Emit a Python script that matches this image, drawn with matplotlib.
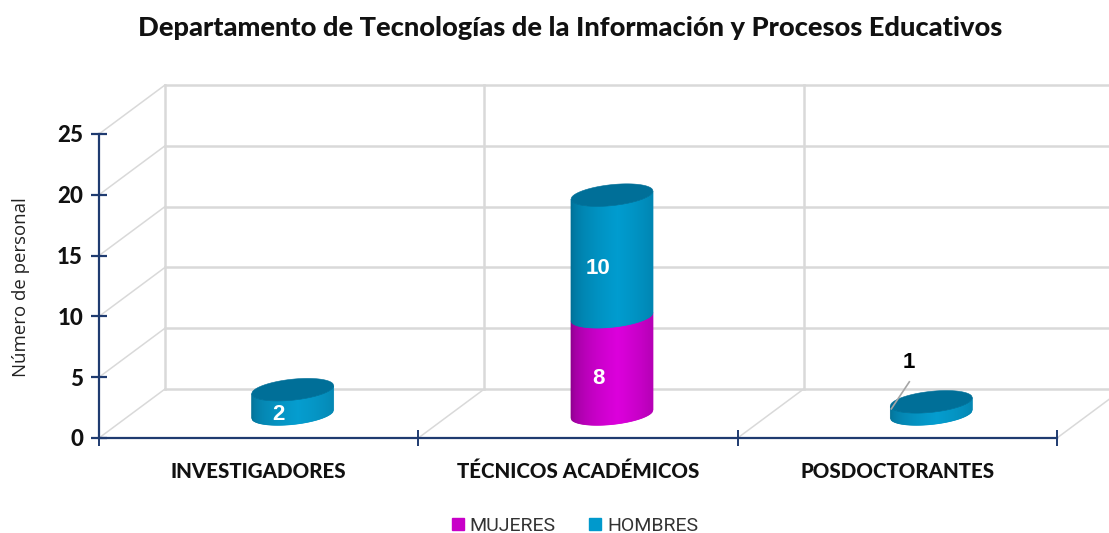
import numpy as np
import matplotlib
matplotlib.use("Agg")
import matplotlib.pyplot as plt
from matplotlib.patches import Polygon, Patch
from matplotlib.transforms import Affine2D, IdentityTransform
from matplotlib.colors import to_rgb

categories = ["INVESTIGADORES", "TÉCNICOS ACADÉMICOS", "POSDOCTORANTES"]
mujeres = [0, 8, 0]
hombres = [2, 10, 1]
yticks = [0, 5, 10, 15, 20, 25]
title = "Departamento de Tecnologías de la Información y Procesos Educativos"
ylabel = "Número de personal"

W, H = 1109, 533
NAVY = "#1F3B70"
GRID = "#D9D9D9"
MAG = ("#7E007E", "#DC00DC")
BLU = ("#00668A", "#009CCF")
BLU_TOP = "#006F98"

fig = plt.figure(figsize=(W / 100, H / 100), dpi=100, facecolor="white")
L, R, T, B = 99, 1057, 134, 438
ax = fig.add_axes([L / W, 1 - B / H, (R - L) / W, (B - T) / H])
ax.set_xlim(-0.5, 2.5)
ax.set_ylim(0, 25)
ax.patch.set_visible(False)
for s in ("top", "right"):
    ax.spines[s].set_visible(False)
for s in ("left", "bottom"):
    ax.spines[s].set_color(NAVY)
    ax.spines[s].set_linewidth(1.6)
    ax.spines[s].set_zorder(6)

LABEL = dict(family="Lato", fontweight="black", color="#111111")
ax.set_yticks(yticks)
ax.set_yticklabels([str(v) for v in yticks], fontsize=16, **LABEL)
ax.tick_params(axis="y", which="major", direction="inout", length=11, width=1.6,
               color=NAVY, pad=6)
ax.set_xticks([-0.5, 0.5, 1.5, 2.5])
ax.set_xticklabels([])
ax.tick_params(axis="x", which="major", direction="inout", length=12, width=1.4, color=NAVY)
ax.set_xticks([0, 1, 2], minor=True)
ax.set_xticklabels(categories, minor=True, fontsize=14.8, **LABEL)
ax.tick_params(axis="x", which="minor", length=0, pad=17)

# back wall and floor
DX, DY = 66, 49
back = ax.transData + Affine2D().translate(DX, DY)
for v in yticks:
    ax.plot([-0.5, 3.0], [v, v], transform=back, color=GRID, lw=1.8, clip_on=False, zorder=1)
    x0, y0 = ax.transData.transform((-0.5, v))
    ax.plot([x0, x0 + DX], [y0, y0 + DY], transform=IdentityTransform(),
            color=GRID, lw=1.1, clip_on=False, zorder=1)
for e in (-0.5, 0.5, 1.5):
    ax.plot([e, e], [0, 25], transform=back, color=GRID, lw=1.8, clip_on=False, zorder=1)
for e in (0.5, 1.5, 2.5):
    x0, y0 = ax.transData.transform((e, 0))
    ax.plot([x0, x0 + DX], [y0, y0 + DY], transform=IdentityTransform(),
            color=GRID, lw=1.1, clip_on=False, zorder=1)

# 3D cylinders, placed from the data scale, sized in pixels
A, Bb, SL = 41, 10.5, 0.10   # half width, half depth, tilt
OX, OY = 34, 24              # depth offset of the bars in the floor


def shade(c, u):
    c0, c1 = np.array(to_rgb(c[0])), np.array(to_rgb(c[1]))
    t = np.clip(1 - abs(u - 0.15) / 1.15, 0, 1) ** 0.4
    return tuple(c0 + (c1 - c0) * t)


def cylinder(cat, v0, v1, col, top=None):
    x, y0 = ax.transData.transform((cat, v0))
    _, y1 = ax.transData.transform((cat, v1))
    x += OX
    y0 += OY
    y1 += OY
    us = np.linspace(-1, 1, 83)
    for a, b in zip(us[:-1], us[1:]):
        ub = np.array([a, b])
        dxs = ub * A
        off = SL * dxs - Bb * np.sqrt(np.clip(1 - ub ** 2, 0, 1))
        xs = x + dxs
        pts = [(xs[0], y0 + off[0]), (xs[1], y0 + off[1]),
               (xs[1], y1 + off[1]), (xs[0], y1 + off[0])]
        fc = shade(col, (a + b) / 2)
        ax.add_patch(Polygon(pts, closed=True, facecolor=fc, edgecolor=fc, lw=0.5,
                             transform=IdentityTransform(), clip_on=False, zorder=3))
    if top:
        t = np.linspace(-1, 1, 120)
        dxs = t * A
        rt = Bb * np.sqrt(1 - t ** 2)
        pts = np.r_[np.c_[x + dxs, y1 + SL * dxs - rt],
                    np.c_[x + dxs[::-1], y1 + SL * dxs[::-1] + rt[::-1]]]
        ax.add_patch(Polygon(pts, closed=True, facecolor=top, edgecolor=top, lw=0.4,
                             transform=IdentityTransform(), clip_on=False, zorder=4))


for i in range(len(categories)):
    m, h = mujeres[i], hombres[i]
    if m:
        cylinder(i, 0, m, MAG)
    cylinder(i, m, m + h, BLU, top=BLU_TOP)

VAL = dict(family="Liberation Sans", fontweight="bold", fontsize=16,
           ha="center", va="center", textcoords="offset pixels", zorder=7)
ax.annotate(str(hombres[0]), (0, hombres[0] / 2), xytext=(20, 11), color="white", **VAL)
ax.annotate(str(mujeres[1]), (1, mujeres[1] / 2), xytext=(20, 11), color="white", **VAL)
ax.annotate(str(hombres[1]), (1, mujeres[1] + hombres[1] / 2), xytext=(20, 11), color="white", **VAL)
# outside label with its leader line
ax.annotate(str(hombres[2]), (2, hombres[2]), xytext=(11, 63), color="black", **VAL)
px, py = ax.transData.transform((2, hombres[2]))
ax.plot([px - 6, px + 12], [py + 17, py + 44], transform=IdentityTransform(),
        color="#A6A6A6", lw=1.2, clip_on=False, zorder=5)

fig.text(570.5 / W, 1 - 28 / H, title, ha="center", va="center", fontsize=19.6,
         family="Lato", fontweight="black", color="#111111")
fig.text(21 / W, 1 - 287 / H, ylabel, rotation=90, ha="center", va="center",
         fontsize=13.4, family="Open Sans", color="#222222")

fig.legend(handles=[Patch(color="#C800C8", label="MUJERES"), Patch(color="#0099CC", label="HOMBRES")],
           loc="center", bbox_to_anchor=(575 / W, 1 - 526 / H), ncols=2, frameon=False,
           prop=dict(family="Roboto", size=14), handlelength=0.62, handleheight=0.62,
           handletextpad=0.3, columnspacing=1.7, labelcolor="#333333",
           borderpad=0, borderaxespad=0)

fig.savefig("out.png", dpi=100, facecolor="white")
